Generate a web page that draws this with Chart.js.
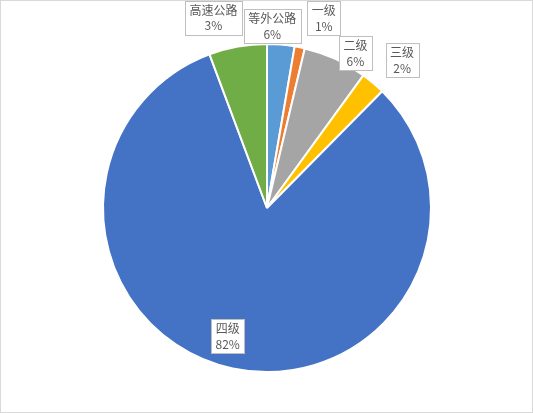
<!DOCTYPE html>
<html>
<head>
<meta charset="utf-8">
<script src="https://cdn.jsdelivr.net/npm/chart.js@4/dist/chart.umd.min.js"></script>
<style>
  html, body { margin: 0; padding: 0; background: #ffffff; }
  #wrap { position: relative; width: 533px; height: 413px; box-sizing: border-box; border: 1px solid #d9d9d9; }
  canvas { position: absolute; left: 0; top: 0; }
</style>
</head>
<body>
<div id="wrap"><canvas id="c" width="533" height="413"></canvas></div>
<script>
// Road mileage share by technical grade (%)
const categories = ['高速公路', '一级', '二级', '三级', '四级', '等外公路'];
const shares = [2.7, 1.0, 6.3, 2.4, 81.9, 5.7];
const colors = ['#5B9BD5', '#ED7D31', '#A5A5A5', '#FFC000', '#4472C4', '#70AD47'];

// Label box nudges relative to the outer point of each slice's mid-angle
const labelNudge = [[-67.5, -27], [24, -29], [20, -6], [29, -23], [-5, -32], [34.5, -20.5]];

const labelPlugin = {
  id: 'sliceLabels',
  afterDatasetsDraw(chart) {
    const ctx = chart.ctx;
    const meta = chart.getDatasetMeta(0);
    const data = chart.data.datasets[0].data;
    const total = data.reduce((a, b) => a + b, 0);
    ctx.save();
    ctx.font = '12px "Noto Sans CJK SC", "Noto Sans", sans-serif';
    ctx.textAlign = 'center';
    ctx.textBaseline = 'middle';
    meta.data.forEach((arc, i) => {
      const p = arc.getProps(['x', 'y', 'startAngle', 'endAngle', 'outerRadius'], true);
      const mid = (p.startAngle + p.endAngle) / 2;
      const px = p.x + Math.cos(mid) * p.outerRadius + labelNudge[i][0];
      const py = p.y + Math.sin(mid) * p.outerRadius + labelNudge[i][1];
      const line1 = chart.data.labels[i];
      const line2 = Math.round(data[i] / total * 100) + '%';
      const w = Math.max(ctx.measureText(line1).width, ctx.measureText(line2).width) + 9;
      const h = 34;
      const bx = Math.round(px - w / 2) + 0.5;
      const by = Math.round(py - h / 2) + 0.5;
      ctx.fillStyle = '#ffffff';
      ctx.fillRect(bx, by, Math.round(w), h);
      ctx.strokeStyle = '#bfbfbf';
      ctx.lineWidth = 1;
      ctx.strokeRect(bx, by, Math.round(w), h);
      ctx.fillStyle = '#595959';
      ctx.fillText(line1, px, py - 7.5);
      ctx.fillText(line2, px, py + 8);
    });
    ctx.restore();
  }
};

new Chart(document.getElementById('c'), {
  type: 'pie',
  data: {
    labels: categories,
    datasets: [{
      data: shares,
      backgroundColor: colors,
      borderColor: '#ffffff',
      borderWidth: 2
    }]
  },
  options: {
    responsive: false,
    animation: false,
    layout: { padding: { top: 42, bottom: 41, left: 0, right: 1 } },
    plugins: {
      legend: { display: false },
      tooltip: { enabled: false }
    }
  },
  plugins: [labelPlugin]
});
</script>
</body>
</html>
